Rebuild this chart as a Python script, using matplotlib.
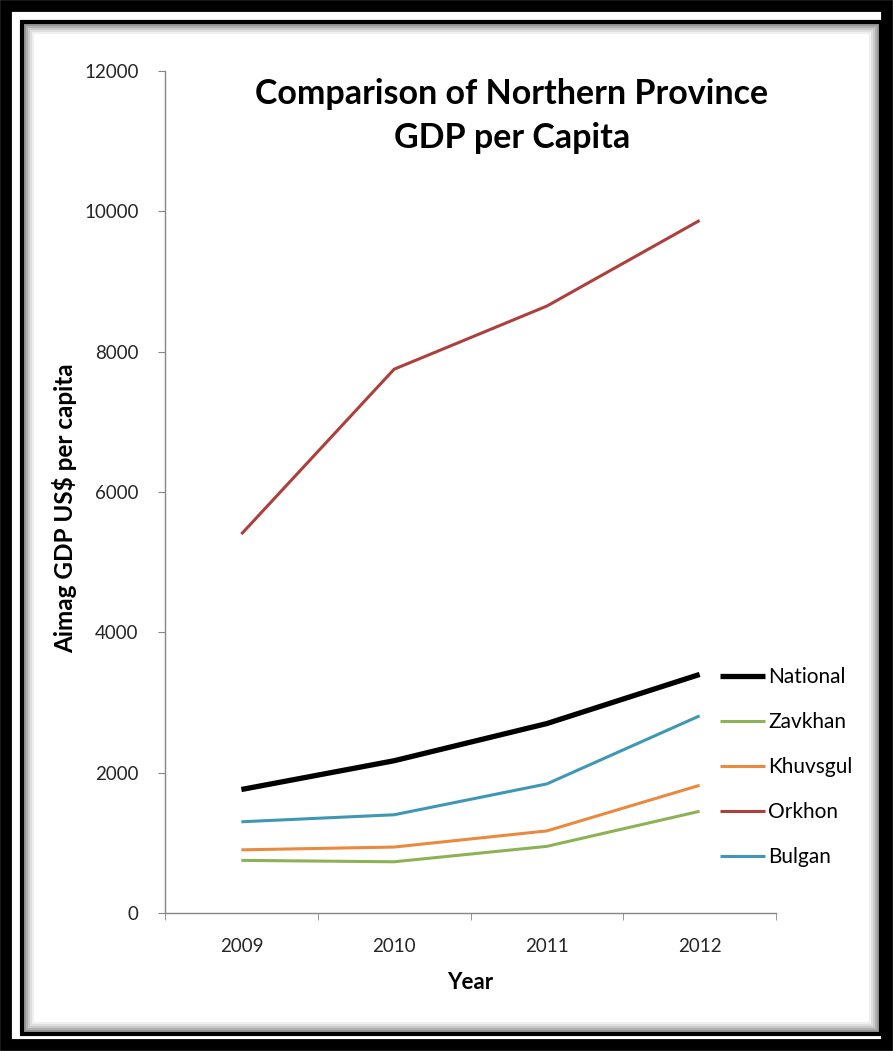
import matplotlib.pyplot as plt
from matplotlib.patches import Rectangle

years = ['2009', '2010', '2011', '2012']
national = [1760, 2170, 2700, 3400]
zavkhan = [750, 730, 950, 1450]
khuvsgul = [900, 940, 1170, 1820]
orkhon = [5400, 7750, 8650, 9870]
bulgan = [1300, 1400, 1840, 2810]

series = [
    ('National', national, 'black', 3.8),
    ('Zavkhan', zavkhan, '#8DB255', 2.2),
    ('Khuvsgul', khuvsgul, '#E98A3E', 2.2),
    ('Orkhon', orkhon, '#AC403D', 2.2),
    ('Bulgan', bulgan, '#3F98B3', 2.2),
]

plt.rcParams['font.family'] = ['Lato', 'DejaVu Sans']

W, H = 893, 1051
fig = plt.figure(figsize=(W / 100, H / 100), dpi=100)

# picture frame: thick outer border, thin white gap, inner border, soft shadow
def frect(x0, y0, x1, y1, **kw):
    fig.patches.append(Rectangle((x0 / W, 1 - y1 / H), (x1 - x0) / W, (y1 - y0) / H,
                                 transform=fig.transFigure, **kw))

frect(6, 6, 887, 1045, facecolor='none', edgecolor='black', linewidth=8.5)
frect(22, 22, 881, 1034, facecolor='none', edgecolor='black', linewidth=3)
for i, a in enumerate([0.4, 0.3, 0.2, 0.12, 0.06]):
    d = 25 + 2 * i
    frect(d, d, 878 - 2 * i, 1031 - 2 * i, facecolor='none',
          edgecolor='black', alpha=a, linewidth=1.5)

ax = fig.add_axes([165 / W, 1 - 913 / H, 611 / W, 842 / H])
x = range(len(years))
for name, vals, color, lw in series:
    ax.plot(x, vals, color=color, linewidth=lw, label=name,
            solid_capstyle='butt')

ax.set_xlim(-0.5, 3.5)
ax.set_ylim(0, 12000)
ax.set_yticks(range(0, 12001, 2000))
ax.set_xticks(list(x))
ax.set_xticklabels(years)
ax.set_xticks([-0.5, 0.5, 1.5, 2.5, 3.5], minor=True)
ax.tick_params(axis='x', which='major', length=0, pad=18, labelsize=13.5,
               labelcolor='#262626')
ax.tick_params(axis='x', which='minor', length=5, color='#868686')
ax.tick_params(axis='y', length=5, color='#868686', pad=14, labelsize=13.5,
               labelcolor='#262626')
for side in ('top', 'right'):
    ax.spines[side].set_visible(False)
for side in ('left', 'bottom'):
    ax.spines[side].set_color('#868686')
    ax.spines[side].set_linewidth(1)

ax.set_xlabel('Year', fontsize=16, fontweight='bold', labelpad=12)
ax.set_ylabel('Aimag GDP US$ per capita', fontsize=17.5, fontweight='bold')
ax.yaxis.set_label_coords(-0.143, 0.481)

fig.text(512 / W, 1 - 116 / H, 'Comparison of Northern Province\nGDP per Capita',
         ha='center', va='center', fontsize=24.5, fontweight='bold',
         linespacing=1.5)

fig.legend(loc='upper left', bbox_to_anchor=(712 / W, 1 - 659 / H),
           frameon=False, fontsize=15, handlelength=2.15, handletextpad=0.15,
           labelspacing=1.2, borderaxespad=0)

fig.savefig('out.png', dpi=100)
